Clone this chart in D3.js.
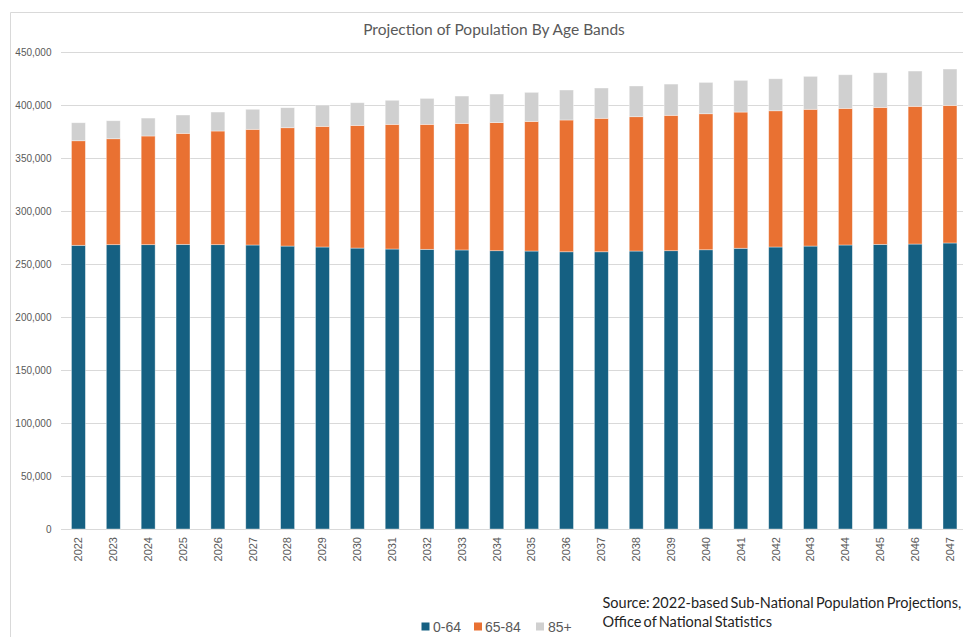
<!DOCTYPE html>
<html>
<head>
<meta charset="utf-8">
<script src="https://cdn.jsdelivr.net/npm/d3@7"></script>
<style>
  html, body { margin: 0; padding: 0; background: #fff; }
  svg { display: block; }
</style>
</head>
<body>
<svg id="chart" width="963" height="637"></svg>
<script>
const years = ["2022","2023","2024","2025","2026","2027","2028","2029","2030","2031","2032","2033","2034","2035","2036","2037","2038","2039","2040","2041","2042","2043","2044","2045","2046","2047"];
const age0to64 = [267800,268400,268400,268700,268400,268100,267100,266200,265200,264300,264000,263400,262700,262400,261700,261700,262400,262700,263600,265000,266200,267100,268100,268700,269000,270000];
const age65to84 = [98700,100000,102600,104800,107300,109200,111700,113900,115800,117700,118000,119500,121000,122400,124400,126000,126800,127800,128400,128600,128600,129100,129000,129300,130000,129900];
const age85plus = [17000,17000,16900,17300,17900,18900,18900,20100,21400,22700,24500,25800,26900,27400,28300,28600,29000,29500,29600,29900,30200,31100,31700,32700,33300,34300];
const seriesNames = ["0-64","65-84","85+"];
const seriesColors = ["#156082","#E97132","#D0D0D0"];
const yTicks = [0,50000,100000,150000,200000,250000,300000,350000,400000,450000];
const titleText = "Projection of Population By Age Bands";
const sourceLines = ["Source: 2022-based Sub-National Population Projections,", "Office of National Statistics"];

const svg = d3.select("#chart");
const W = 963, H = 637;

// chart border (cropped on the right/bottom)
svg.append("path")
  .attr("d", `M10.5,${H} L10.5,12.5 L${W},12.5`)
  .attr("fill", "none").attr("stroke", "#D9D9D9").attr("stroke-width", 1);

const x = d3.scaleBand().domain(years).range([61, 967.4]).paddingInner(0.6).paddingOuter(0.3);
const y = d3.scaleLinear().domain([0, 450000]).range([529, 52.3]);

// gridlines
svg.append("g").selectAll("line").data(yTicks).join("line")
  .attr("x1", 61).attr("x2", W)
  .attr("y1", d => Math.round(y(d)) + 0.5).attr("y2", d => Math.round(y(d)) + 0.5)
  .attr("stroke", "#D9D9D9").attr("stroke-width", 1);

// y axis labels
const yAxis = d3.axisLeft(y).tickValues(yTicks).tickSize(0).tickPadding(0)
  .tickFormat(d3.format(","));
const gy = svg.append("g").attr("transform", "translate(51.5,0)").call(yAxis);
gy.select(".domain").remove();
gy.selectAll("text").attr("font-family", "'Liberation Sans', Arial, sans-serif")
  .attr("font-size", 10).attr("fill", "#595959");

// stacked data
const rows = years.map((yr, i) => ({ year: yr, "0-64": age0to64[i], "65-84": age65to84[i], "85+": age85plus[i] }));
const stack = d3.stack().keys(seriesNames)(rows);

svg.append("g").selectAll("g").data(stack).join("g")
  .attr("fill", (d, i) => seriesColors[i])
  .selectAll("rect").data(d => d).join("rect")
  .attr("x", d => x(d.data.year))
  .attr("width", x.bandwidth())
  .attr("y", d => y(d[1]))
  .attr("height", d => y(d[0]) - y(d[1]))
  .attr("stroke", "#ffffff").attr("stroke-opacity", 0.5).attr("stroke-width", 0.75);

// x axis labels (rotated)
const xAxis = d3.axisBottom(x).tickSize(0).tickPadding(0);
const gx = svg.append("g").attr("transform", "translate(0,529)").call(xAxis);
gx.select(".domain").remove();
gx.selectAll("text")
  .attr("font-family", "'Liberation Sans', Arial, sans-serif")
  .attr("font-size", 11).attr("fill", "#595959")
  .attr("text-anchor", "end")
  .attr("transform", "rotate(-90)")
  .attr("x", -8).attr("y", 0).attr("dy", "0.35em");

// title
svg.append("text").attr("x", 494).attr("y", 35)
  .attr("text-anchor", "middle")
  .attr("font-family", "Lato, 'Open Sans', sans-serif")
  .attr("font-size", 15.5).attr("fill", "#595959")
  .text(titleText);

// legend
const legendItems = [
  { name: seriesNames[0], color: seriesColors[0], sx: 421.5, tx: 433 },
  { name: seriesNames[1], color: seriesColors[1], sx: 474, tx: 485 },
  { name: seriesNames[2], color: seriesColors[2], sx: 536, tx: 548 }
];
const lg = svg.append("g");
lg.selectAll("rect").data(legendItems).join("rect")
  .attr("x", d => d.sx).attr("y", 622.5).attr("width", 8).attr("height", 8)
  .attr("fill", d => d.color);
lg.selectAll("text").data(legendItems).join("text")
  .attr("x", d => d.tx).attr("y", 631.5)
  .attr("font-family", "'Liberation Sans', Arial, sans-serif")
  .attr("font-size", 14).attr("fill", "#595959")
  .text(d => d.name);

// source note
svg.append("g").selectAll("text").data(sourceLines).join("text")
  .attr("x", 602.5).attr("y", (d, i) => 607.5 + i * 19.5)
  .attr("font-family", "Lato, 'Open Sans', sans-serif")
  .attr("font-size", 14.5).attr("fill", "#1f1f1f")
  .attr("word-spacing", "-1.5px")
  .text(d => d);
</script>
</body>
</html>
